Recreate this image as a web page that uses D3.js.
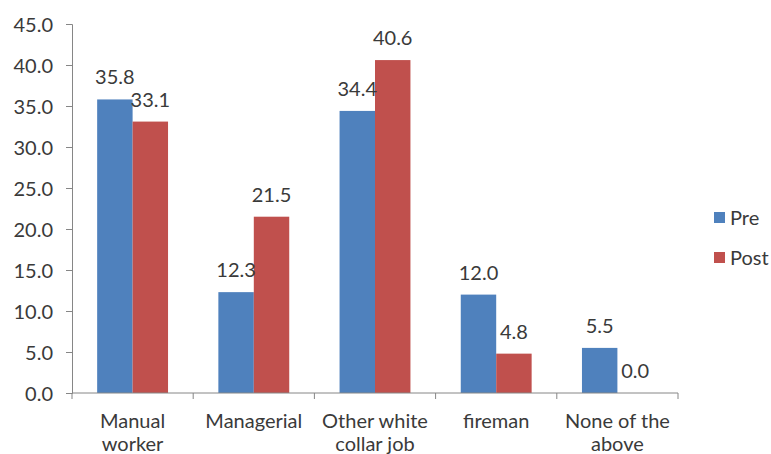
<!DOCTYPE html>
<html>
<head>
<meta charset="utf-8">
<script src="https://cdn.jsdelivr.net/npm/d3@7"></script>
<style>
  html, body { margin: 0; padding: 0; background: #fff; }
  svg { display: block; font-family: Lato, "Open Sans", sans-serif; }
</style>
</head>
<body>
<svg id="chart" width="771" height="454"></svg>
<script>
// Occupation categories (each label may break over two lines)
const categories = [
  ["Manual", "worker"],
  ["Managerial"],
  ["Other white", "collar job"],
  ["fireman"],
  ["None of the", "above"]
];
const seriesNames = ["Pre", "Post"];
const preValues = [35.8, 12.3, 34.4, 12.0, 5.5];
const postValues = [33.1, 21.5, 40.6, 4.8, 0.0];
const yTicks = [0, 5, 10, 15, 20, 25, 30, 35, 40, 45];

const colors = { Pre: "#4F81BD", Post: "#C0504D" };
const textColor = "#3a3a3a";
const axisColor = "#868686";
const fontSize = 20;

const svg = d3.select("#chart");
const margin = { left: 72, right: 93, top: 24, bottom: 61 };
const width = 771, height = 454;

const x = d3.scaleBand()
  .domain(d3.range(categories.length))
  .range([margin.left, width - margin.right])
  .paddingInner(0).paddingOuter(0);

const xInner = d3.scaleBand()
  .domain(seriesNames)
  .range([0, x.bandwidth()])
  .paddingInner(0)
  .paddingOuter(0.71);

const y = d3.scaleLinear()
  .domain([0, 45])
  .range([height - margin.bottom, margin.top]);

const rows = categories.map((c, i) => ({ i, Pre: preValues[i], Post: postValues[i] }));

// Bars
const groups = svg.append("g").selectAll("g")
  .data(rows).join("g")
  .attr("transform", d => `translate(${x(d.i)},0)`);

groups.selectAll("rect")
  .data(d => seriesNames.map(s => ({ s, v: d[s] })))
  .join("rect")
  .attr("x", d => xInner(d.s))
  .attr("width", xInner.bandwidth())
  .attr("y", d => y(d.v))
  .attr("height", d => y(0) - y(d.v))
  .attr("fill", d => colors[d.s]);

// Value labels
groups.selectAll("text")
  .data(d => seriesNames.map(s => ({ s, v: d[s] })))
  .join("text")
  .attr("x", d => xInner(d.s) + xInner.bandwidth() / 2)
  .attr("y", d => y(d.v) - 15)
  .attr("text-anchor", "middle")
  .attr("font-size", fontSize)
  .attr("fill", textColor)
  .text(d => d.v.toFixed(1));

// Y axis
const yAxis = svg.append("g")
  .attr("transform", `translate(${margin.left},0)`)
  .call(d3.axisLeft(y).tickValues(yTicks).tickFormat(d3.format(".1f")).tickSizeOuter(0).tickSize(6).tickPadding(13));
yAxis.select(".domain").attr("stroke", axisColor);
yAxis.selectAll(".tick line").attr("stroke", axisColor);
yAxis.selectAll(".tick text")
  .attr("font-size", fontSize).attr("font-family", "Lato, sans-serif")
  .attr("fill", textColor).attr("dy", "0.35em");

// X axis with ticks at category boundaries
const xAxisG = svg.append("g")
  .attr("transform", `translate(0,${y(0)})`);
xAxisG.append("line")
  .attr("x1", margin.left).attr("x2", width - margin.right)
  .attr("y1", 0).attr("y2", 0)
  .attr("stroke", axisColor);
const boundaries = d3.range(categories.length + 1).map(i =>
  i < categories.length ? x(i) : x(categories.length - 1) + x.bandwidth());
xAxisG.selectAll("line.tk")
  .data(boundaries).join("line").attr("class", "tk")
  .attr("x1", d => d).attr("x2", d => d)
  .attr("y1", 0).attr("y2", 6)
  .attr("stroke", axisColor);

const catLabels = xAxisG.selectAll("text.cat")
  .data(categories).join("text").attr("class", "cat")
  .attr("text-anchor", "middle")
  .attr("font-size", fontSize)
  .attr("fill", textColor);
catLabels.each(function(lines, i) {
  const t = d3.select(this);
  lines.forEach((ln, k) => {
    t.append("tspan")
      .attr("x", x(i) + x.bandwidth() / 2)
      .attr("y", 35 + k * 23)
      .text(ln);
  });
});

// Legend
const legend = svg.append("g")
  .attr("transform", "translate(714,212)");
const items = legend.selectAll("g")
  .data(seriesNames).join("g")
  .attr("transform", (d, i) => `translate(0,${i * 40})`);
items.append("rect")
  .attr("width", 11).attr("height", 11)
  .attr("fill", d => colors[d]);
items.append("text")
  .attr("x", 16).attr("y", 5.5).attr("dy", "0.35em")
  .attr("font-size", fontSize)
  .attr("fill", textColor)
  .text(d => d);
</script>
</body>
</html>
